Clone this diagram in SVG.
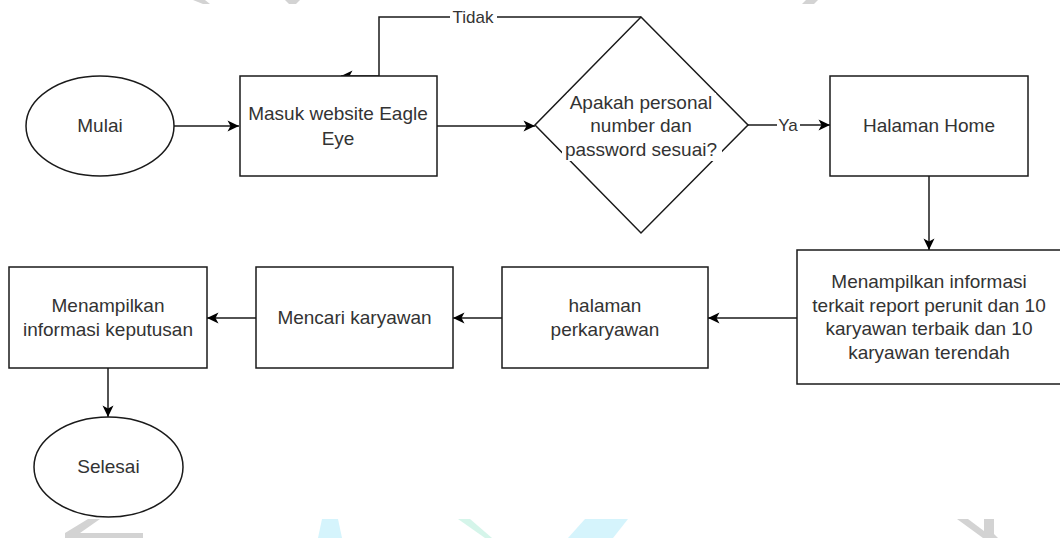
<svg xmlns="http://www.w3.org/2000/svg" width="1060" height="538" viewBox="0 0 1060 538">
<style>
.shape{fill:#ffffff;stroke:#1a1a1a;stroke-width:1.5}
.t{font-family:"Liberation Sans",Arial,Helvetica,sans-serif;font-size:19px;fill:#333333;text-anchor:middle}
.lbl{font-family:"Liberation Sans",Arial,Helvetica,sans-serif;font-size:17px;fill:#333333;text-anchor:middle}
.edge{fill:none;stroke:#1a1a1a;stroke-width:1.5}
.bg{fill:#ffffff;stroke:none}
.wmg{fill:#d3d3d3}
.wmc{fill:#d5f4fc}
.wmm{fill:#d5f5ea}
</style>
<defs>
<marker id="arr" markerUnits="userSpaceOnUse" markerWidth="14" markerHeight="14" refX="12" refY="6.5" orient="auto">
<path d="M0.5,1 L12,6.5 L0.5,12 L3.5,6.5 Z" fill="#000000"/>
</marker>
</defs>
<rect x="0" y="0" width="1060" height="538" fill="#ffffff"/>
<g id="watermark">
<polygon class="wmg" points="193,0 205,0 210,4 203,4"/>
<polygon class="wmg" points="285,0 300,0 296,4 289,4"/>
<polygon class="wmg" points="806,0 818,0 814,4 802,4"/>
<polygon class="wmg" points="88,519 100,519 80,533 143,533 143,538 65,538 65,533"/>
<polygon class="wmc" points="322,519 338,519 342,538 318,538"/>
<polygon class="wmm" points="458,519 470,519 492,538 485,538"/>
<polygon class="wmc" points="585,519 628,519 613,538 568,538"/>
<polygon class="wmg" points="957,519 968,519 984,531 984,519 994,519 994,534 998,538 983,538"/>
</g>
<g id="connectors">
<line class="edge" x1="174" y1="126" x2="239" y2="126" marker-end="url(#arr)"/>
<line class="edge" x1="437" y1="126" x2="535" y2="126" marker-end="url(#arr)"/>
<polyline class="edge" points="641,17 379,17 379,76 341,76" marker-end="url(#arr)"/>
<line class="edge" x1="748" y1="125" x2="830" y2="125" marker-end="url(#arr)"/>
<line class="edge" x1="929" y1="176" x2="929" y2="250" marker-end="url(#arr)"/>
<line class="edge" x1="797" y1="318" x2="708" y2="318" marker-end="url(#arr)"/>
<line class="edge" x1="502" y1="318" x2="453" y2="318" marker-end="url(#arr)"/>
<line class="edge" x1="256" y1="318" x2="207" y2="318" marker-end="url(#arr)"/>
<line class="edge" x1="108" y1="368" x2="108" y2="417" marker-end="url(#arr)"/>
<rect class="bg" x="450" y="8" width="47" height="19"/>
<text class="lbl" x="473" y="23">Tidak</text>
<rect class="bg" x="777" y="116" width="23" height="19"/>
<text class="lbl" x="788" y="131">Ya</text>
</g>
<g id="mulai">
<ellipse class="shape" cx="100" cy="126" rx="74" ry="50"/>
<text class="t" x="100" y="132">Mulai</text>
</g>
<g id="masuk">
<rect class="shape" x="240" y="76" width="197" height="100"/>
<text class="t" x="338" y="120">Masuk website Eagle</text>
<text class="t" x="338" y="145">Eye</text>
</g>
<g id="decision">
<polygon class="shape" points="641,17 748,125 641,233 535,125"/>
<rect class="bg" x="567" y="93" width="149" height="21"/>
<rect class="bg" x="582" y="117" width="113" height="21"/>
<rect class="bg" x="562" y="140" width="160" height="21"/>
<text class="t" x="641" y="108.5">Apakah personal</text>
<text class="t" x="641" y="132">number dan</text>
<text class="t" x="641" y="155.5">password sesuai?</text>
</g>
<g id="home">
<rect class="shape" x="830" y="76" width="198" height="100"/>
<text class="t" x="929" y="132">Halaman Home</text>
</g>
<g id="info">
<rect class="shape" x="797" y="250" width="264" height="134"/>
<text class="t" x="929" y="288">Menampilkan informasi</text>
<text class="t" x="929" y="311.5">terkait report perunit dan 10</text>
<text class="t" x="929" y="335">karyawan terbaik dan 10</text>
<text class="t" x="929" y="358.5">karyawan terendah</text>
</g>
<g id="perkaryawan">
<rect class="shape" x="502" y="267" width="206" height="101"/>
<text class="t" x="605" y="312">halaman</text>
<text class="t" x="605" y="335.5">perkaryawan</text>
</g>
<g id="mencari">
<rect class="shape" x="256" y="267" width="197" height="101"/>
<text class="t" x="354.5" y="324">Mencari karyawan</text>
</g>
<g id="keputusan">
<rect class="shape" x="9" y="267" width="198" height="101"/>
<text class="t" x="108" y="312">Menampilkan</text>
<text class="t" x="108" y="335.5">informasi keputusan</text>
</g>
<g id="selesai">
<ellipse class="shape" cx="108.5" cy="467" rx="74.5" ry="50"/>
<text class="t" x="108.5" y="473">Selesai</text>
</g>
</svg>
